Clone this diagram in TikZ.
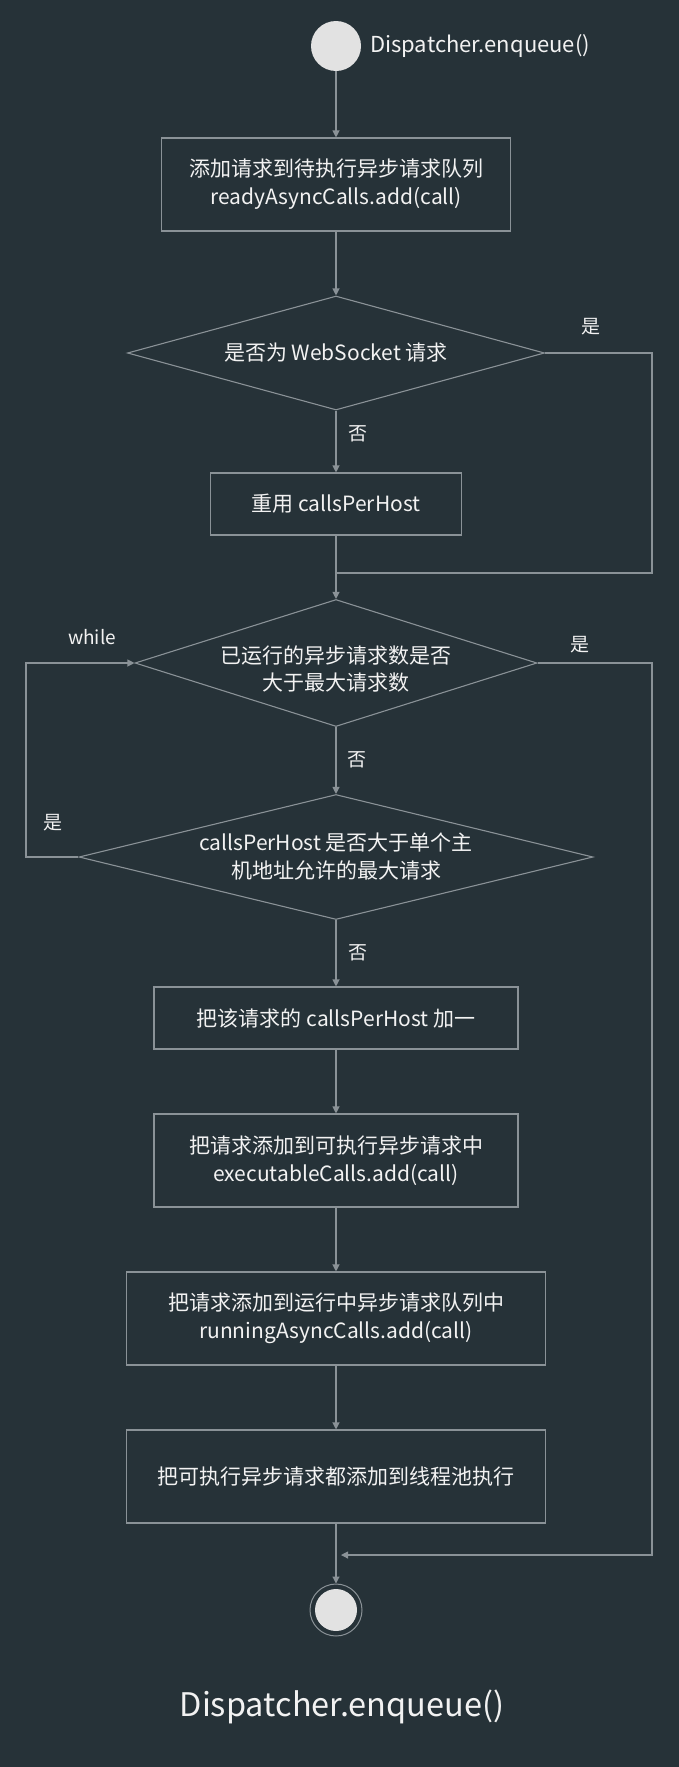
\documentclass[tikz,border=0pt]{standalone}
\usepackage{fontspec}
\setmainfont{Noto Sans CJK SC}
\usetikzlibrary{arrows.meta,shapes.geometric}
\definecolor{bgclr}{HTML}{263238}
\definecolor{lineclr}{HTML}{8A9297}
\definecolor{txtclr}{HTML}{F2F2F2}
\definecolor{dotclr}{HTML}{E2E2E2}
\tikzset{
  flownode/.style = {align=center, inner sep=0pt, text=txtclr, font=\fontsize{21}{28}\selectfont},
  flow_box/.style = {flownode, rectangle, draw=lineclr, line width=1.1pt},
  flow_dia/.style = {flownode, diamond, aspect=3.6, draw=lineclr, line width=1.1pt},
  flow_lbl/.style = {text=txtclr, inner sep=0pt, font=\fontsize{19}{19}\selectfont},
  flow_dot/.style = {circle, fill=dotclr, inner sep=0pt},
  flow_line/.style = {draw=lineclr, line width=1.1pt},
  flow_arr/.style = {flow_line, -{Triangle[length=7pt,width=7pt]}},
}

\begin{document}
\begin{tikzpicture}[x=1pt, y=-1pt]
  \useasboundingbox (0,0) rectangle (679,1767);
  \fill[bgclr] (0,0) rectangle (679,1767);

  \node [flow_dot, minimum size=50pt] (start) at (336,46) {};
  \node [flow_lbl, anchor=west, font=\fontsize{22}{22}\selectfont] (startlbl) at (370,46) {Dispatcher.enqueue()};

  \node [flow_box, minimum width=349pt, minimum height=93pt] (box1) at (336,184.5)
    {添加请求到待执行异步请求队列\\readyAsyncCalls.add(call)};
  \node [flow_dia, minimum width=417pt, minimum height=114pt] (dia1) at (336,353)
    {是否为 WebSocket 请求};
  \node [flow_box, minimum width=251pt, minimum height=62pt] (box2) at (336,504)
    {重用 callsPerHost};
  \node [flow_dia, minimum width=402pt, minimum height=127pt,
    label={[flownode, yshift=-6pt]center:已运行的异步请求数是否\\大于最大请求数}] (dia2) at (336,663) {};
  \node [flow_dia, minimum width=514pt, minimum height=125pt] (dia3) at (336,857)
    {callsPerHost 是否大于单个主\\机地址允许的最大请求};
  \node [flow_box, minimum width=364pt, minimum height=62pt] (box3) at (336,1018)
    {把该请求的 callsPerHost 加一};
  \node [flow_box, minimum width=364pt, minimum height=93pt] (box4) at (336,1160.5)
    {把请求添加到可执行异步请求中\\executableCalls.add(call)};
  \node [flow_box, minimum width=419pt, minimum height=93pt] (box5) at (336,1318.5)
    {把请求添加到运行中异步请求队列中\\runningAsyncCalls.add(call)};
  \node [flow_box, minimum width=419pt, minimum height=93pt] (box6) at (336,1476.5)
    {把可执行异步请求都添加到线程池执行};

  \node [circle, draw=lineclr, line width=1pt, minimum size=52pt, inner sep=0pt] (end) at (336,1610) {};
  \node [flow_dot, minimum size=42pt] (enddot) at (end) {};
  \node [flow_lbl, font=\fontsize{32.5}{32.5}\selectfont] (endlbl) at (342,1707) {Dispatcher.enqueue()};

  \node [flow_lbl] (yes1) at (591,327) {是};
  \node [flow_lbl] (no1) at (358,434) {否};
  \node [flow_lbl] (while) at (92,637) {while};
  \node [flow_lbl] (yes2) at (580,645) {是};
  \node [flow_lbl] (no2) at (357,760) {否};
  \node [flow_lbl] (yes3) at (53,823) {是};
  \node [flow_lbl] (no3) at (358,953) {否};

  \coordinate (rjoin1) at (652,573);
  \coordinate (rjoin2) at (652,1555);
  \coordinate (lloop) at (26,857);

  \draw[flow_arr] (start) -- (box1);
  \draw[flow_arr] (box1) -- (dia1);
  \draw[flow_arr] (dia1) -- (box2);
  \draw[flow_arr] (box2) -- (dia2);
  \draw[flow_line] (dia1.east) -| (rjoin1) -- (rjoin1 -| box2.south);
  \draw[flow_arr] (dia2) -- (dia3);
  \draw[flow_arr] (dia3.west) -- (lloop) |- (dia2.west);
  \draw[flow_arr] (dia3) -- (box3);
  \draw[flow_arr] (box3) -- (box4);
  \draw[flow_arr] (box4) -- (box5);
  \draw[flow_arr] (box5) -- (box6);
  \draw[flow_arr] (box6) -- (end);
  \draw[flow_arr, shorten >=5pt] (dia2.east) -| (rjoin2) -- (rjoin2 -| end.north);
\end{tikzpicture}
\end{document}
